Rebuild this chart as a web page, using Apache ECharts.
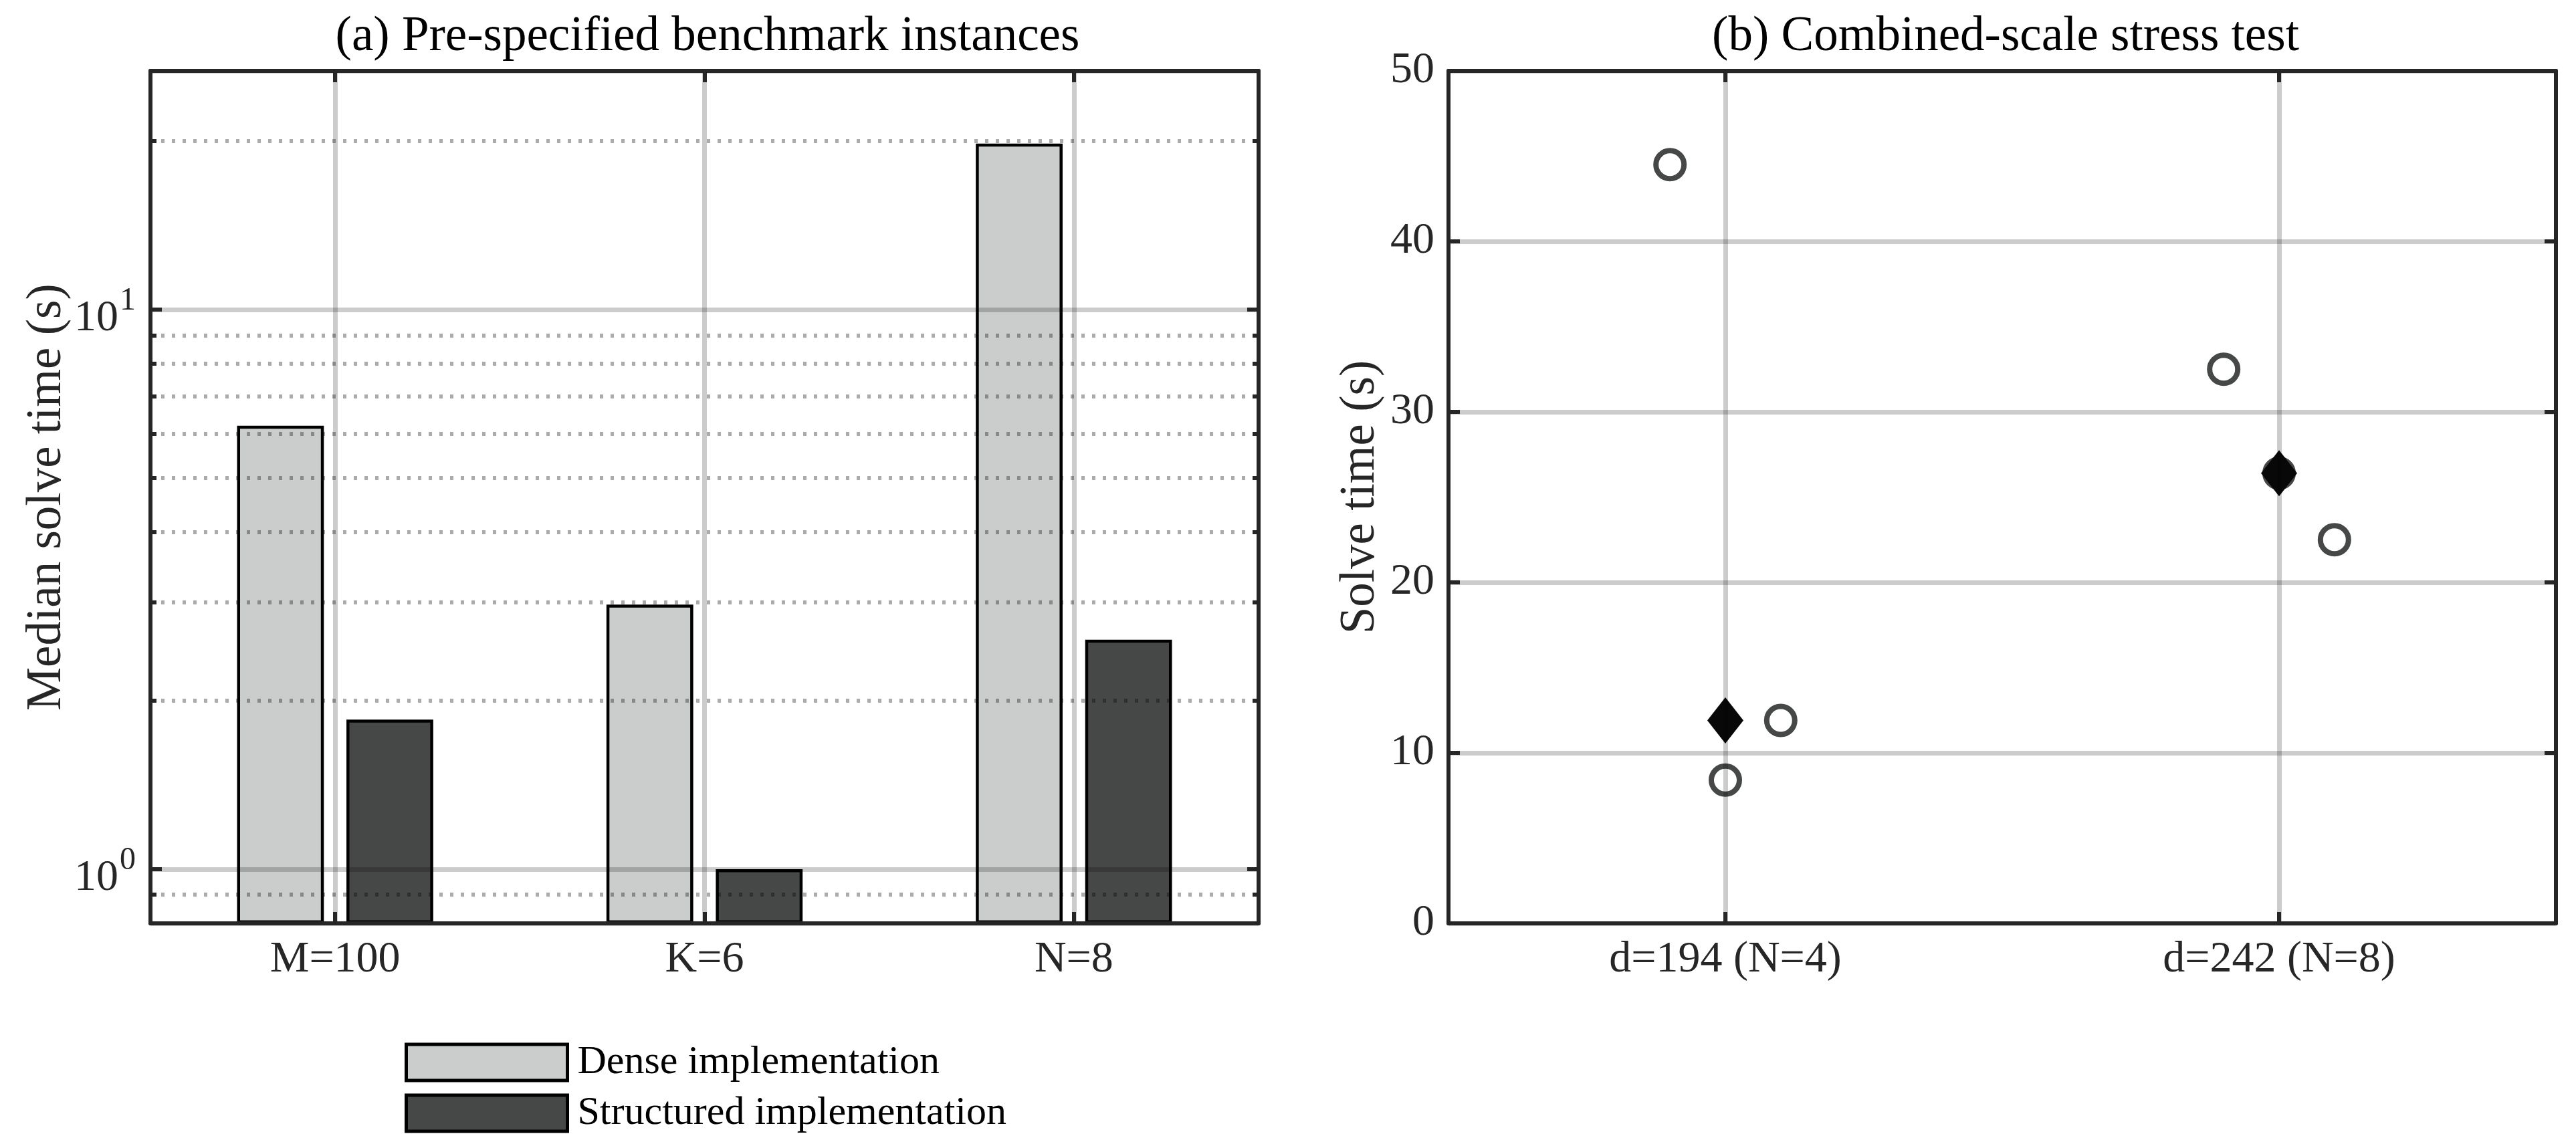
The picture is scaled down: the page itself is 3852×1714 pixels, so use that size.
<!DOCTYPE html>
<html>
<head>
<meta charset="utf-8">
<script src="https://cdn.jsdelivr.net/npm/echarts@6/dist/echarts.min.js"></script>
<style>
html, body { margin: 0; background: #fff; }
#show { width: 3852px; height: 1714px; }
</style>
</head>
<body>
<div id="show"></div>
<script>
// (a) median solve times per benchmark instance
var categories = ['M=100', 'K=6', 'N=8'];
var denseTimes = [6.2, 2.97, 19.8];
var structuredTimes = [1.85, 1.0, 2.57];
var logMin = 0.8, logMax = 26.7;
var minorTicks = [0.9, 2, 3, 4, 5, 6, 7, 8, 9, 20];

// (b) stress test runs, three runs per size, jittered around the category
var stressCategories = ['d=194 (N=4)', 'd=242 (N=8)'];
var runOffsets = [-0.1, 0, 0.1];
var runsD194 = [44.5, 8.4, 11.9];
var runsD242 = [32.5, 26.4, 22.5];
var medians = [11.9, 26.4];

var FONT = '"Liberation Serif", "Times New Roman", "DejaVu Serif", serif';
var INK = '#262626';
var GRID = 'rgba(0,0,0,0.2)';
var DOT = 'rgba(0,0,0,0.33)';

var myChart = echarts.init(document.getElementById('show'));

var runs = [runsD194, runsD242];
var runPoints = [];
runs.forEach(function (r, i) {
    r.forEach(function (v, j) {
        runPoints.push([i + 1 + runOffsets[j], v]);
    });
});
var medianPoints = medians.map(function (v, i) { return [i + 1, v]; });

var minorLogs = minorTicks.map(function (v) { return Math.log10(v); });
var catIdx = categories.map(function (c, i) { return i + 1; });
var stressIdx = stressCategories.map(function (c, i) { return i + 1; });

function tickLabel() {
    return { fontFamily: FONT, fontSize: 66, color: INK };
}
function frame(show) {
    return { show: show, onZero: false, lineStyle: { color: INK, width: 6 } };
}
function majorTick(custom) {
    var t = { show: true, inside: true, length: 17, lineStyle: { color: INK, width: 6 } };
    if (custom) t.customValues = custom;
    return t;
}

myChart.setOption({
    animation: false,
    backgroundColor: '#fff',
    textStyle: { fontFamily: FONT },
    title: [
        {
            text: '(a) Pre-specified benchmark instances',
            left: 1053, top: 14, textAlign: 'center',
            textStyle: { fontFamily: FONT, fontSize: 73, fontWeight: 'normal', color: '#000' }
        },
        {
            text: '(b) Combined-scale stress test',
            left: 2994, top: 14, textAlign: 'center',
            textStyle: { fontFamily: FONT, fontSize: 73, fontWeight: 'normal', color: '#000' }
        }
    ],
    legend: {
        orient: 'vertical',
        left: 600, top: 1554,
        itemWidth: 241, itemHeight: 54, itemGap: 16,
        icon: 'rect',
        itemStyle: { borderColor: '#000', borderWidth: 5 },
        textStyle: { fontFamily: FONT, fontSize: 60, color: '#000', padding: [0, 0, 0, 10] },
        data: ['Dense implementation', 'Structured implementation']
    },
    grid: [
        { left: 225, top: 106, width: 1657, height: 1275 },
        { left: 2166, top: 106, width: 1656, height: 1275 }
    ],
    xAxis: [
        {   // (a) categories for the bars, bottom frame
            gridIndex: 0, type: 'category', data: categories, boundaryGap: true, z: 5,
            axisLine: frame(true), axisTick: { show: false },
            axisLabel: Object.assign(tickLabel(), { margin: 22 }),
            splitLine: { show: false }
        },
        {   // (a) vertical grid lines + bottom ticks at category centres
            gridIndex: 0, type: 'value', min: 0.5, max: 3.5, position: 'bottom', z: 5,
            axisLine: { show: false, onZero: false }, axisTick: majorTick(catIdx), axisLabel: { show: false },
            splitLine: { show: true, lineStyle: { color: GRID, width: 7 } }
        },
        {   // (a) top frame
            gridIndex: 0, type: 'value', min: 0.5, max: 3.5, position: 'top', z: 5,
            axisLine: frame(true), axisTick: majorTick(catIdx), axisLabel: { show: false },
            splitLine: { show: false }
        },
        {   // (b) bottom
            gridIndex: 1, type: 'value', min: 0.5, max: 2.5, position: 'bottom', z: 5,
            axisLine: frame(true), axisTick: majorTick(stressIdx),
            axisLabel: Object.assign(tickLabel(), {
                margin: 22, customValues: stressIdx,
                formatter: function (v) { return stressCategories[Math.round(v) - 1] || ''; }
            }),
            splitLine: { show: true, lineStyle: { color: GRID, width: 7 } }
        },
        {   // (b) top frame
            gridIndex: 1, type: 'value', min: 0.5, max: 2.5, position: 'top', z: 5,
            axisLine: frame(true), axisTick: majorTick(stressIdx), axisLabel: { show: false },
            splitLine: { show: false }
        }
    ],
    yAxis: [
        {   // (a) log axis, left
            gridIndex: 0, type: 'log', logBase: 10, min: logMin, max: logMax, startValue: logMin,
            position: 'left', z: 5,
            name: 'Median solve time (s)', nameLocation: 'middle', nameGap: 118,
            nameTextStyle: { fontFamily: FONT, fontSize: 73, color: INK },
            axisLine: frame(true), axisTick: majorTick(),
            axisLabel: {
                margin: 22,
                formatter: function (v) {
                    var l = Math.log10(v), e = Math.round(l);
                    if (Math.abs(l - e) > 1e-6) return '';
                    return '{b|10}{s|' + e + '}';
                },
                rich: {
                    b: { fontFamily: FONT, fontSize: 66, color: INK, padding: [28, 0, 0, 0] },
                    s: { fontFamily: FONT, fontSize: 48, color: INK, padding: [0, 0, 26, 2] }
                }
            },
            splitLine: { show: true, lineStyle: { color: GRID, width: 7 } }
        },
        {   // (a) minor dotted grid lines + left minor ticks (log10 space)
            gridIndex: 0, type: 'value', min: Math.log10(logMin), max: Math.log10(logMax),
            position: 'left', z: 5,
            axisLine: { show: false, onZero: false },
            axisTick: { show: true, inside: true, length: 9, customValues: minorLogs, lineStyle: { color: INK, width: 6 } },
            axisLabel: { show: false },
            splitLine: { show: true, lineStyle: { color: DOT, width: 6, type: [5, 11] } }
        },
        {   // (a) right frame
            gridIndex: 0, type: 'log', logBase: 10, min: logMin, max: logMax, position: 'right', z: 5,
            axisLine: frame(true), axisTick: majorTick(), axisLabel: { show: false },
            splitLine: { show: false }
        },
        {   // (a) right minor ticks
            gridIndex: 0, type: 'value', min: Math.log10(logMin), max: Math.log10(logMax),
            position: 'right', z: 5,
            axisLine: { show: false, onZero: false },
            axisTick: { show: true, inside: true, length: 9, customValues: minorLogs, lineStyle: { color: INK, width: 6 } },
            axisLabel: { show: false }, splitLine: { show: false }
        },
        {   // (b) linear axis, left
            gridIndex: 1, type: 'value', min: 0, max: 50, interval: 10, position: 'left', z: 5,
            name: 'Solve time (s)', nameLocation: 'middle', nameGap: 95,
            nameTextStyle: { fontFamily: FONT, fontSize: 73, color: INK },
            axisLine: frame(true), axisTick: majorTick(),
            axisLabel: Object.assign(tickLabel(), { margin: 21 }),
            splitLine: { show: true, lineStyle: { color: GRID, width: 7 } }
        },
        {   // (b) right frame
            gridIndex: 1, type: 'value', min: 0, max: 50, interval: 10, position: 'right', z: 5,
            axisLine: frame(true), axisTick: majorTick(), axisLabel: { show: false },
            splitLine: { show: false }
        }
    ],
    series: [
        {
            name: 'Dense implementation', type: 'bar', xAxisIndex: 0, yAxisIndex: 0,
            data: denseTimes, barWidth: '23.5%', barGap: '26%', z: 2,
            itemStyle: { color: '#cbcdcc', borderColor: '#000', borderWidth: 4.5 }
        },
        {
            name: 'Structured implementation', type: 'bar', xAxisIndex: 0, yAxisIndex: 0,
            data: structuredTimes, barWidth: '23.5%', barGap: '26%', z: 2,
            itemStyle: { color: '#464847', borderColor: '#000', borderWidth: 4.5 }
        },
        {
            name: 'Runs', type: 'scatter', xAxisIndex: 3, yAxisIndex: 4,
            data: runPoints, symbol: 'circle', symbolSize: 42, z: 2,
            itemStyle: { color: 'rgba(0,0,0,0)', borderColor: '#464847', borderWidth: 8, opacity: 1 }
        },
        {
            name: 'Median', type: 'scatter', xAxisIndex: 3, yAxisIndex: 4,
            data: medianPoints, symbol: 'diamond', symbolSize: [54, 69], z: 3,
            itemStyle: { color: '#080808', opacity: 1 }
        }
    ]
});
</script>
</body>
</html>
